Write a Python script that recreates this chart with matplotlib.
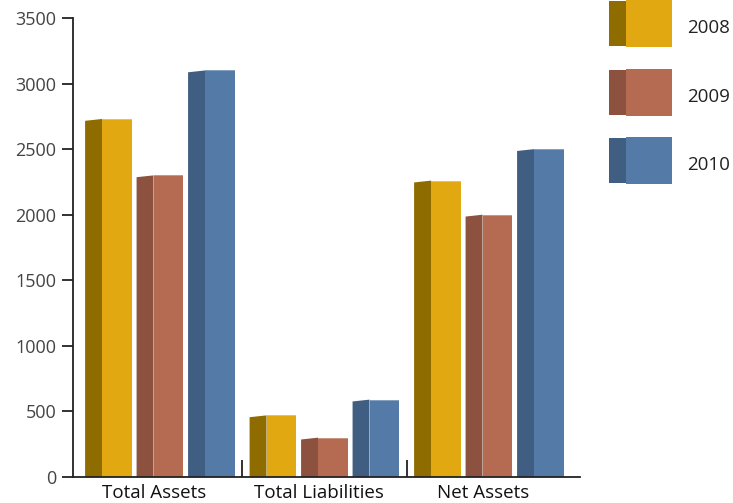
import numpy as np
import matplotlib
matplotlib.use("Agg")
import matplotlib.pyplot as plt
import matplotlib.transforms as mtrans
from matplotlib.patches import Polygon, Rectangle

categories = ["Total Assets", "Total Liabilities", "Net Assets"]
years = ["2008", "2009", "2010"]
values = {
    "2008": [2730, 470, 2260],
    "2009": [2300, 300, 2000],
    "2010": [3100, 590, 2500],
}
yticks = [0, 500, 1000, 1500, 2000, 2500, 3000, 3500]

FRONT = {"2008": "#e2a811", "2009": "#b46b52", "2010": "#547ba7"}
SIDE = {"2008": "#8f6c00", "2009": "#8c513f", "2010": "#3f5e81"}

plt.rcParams["font.family"] = ["Open Sans", "DejaVu Sans"]
fig = plt.figure(figsize=(7.33, 5.03), dpi=100)
ax = fig.add_axes([73 / 733, 1 - 477 / 503, (580 - 73) / 733, (477 - 18) / 503])

width, side_w, step, drop = 0.285, 0.103, 0.313, 14
x = np.arange(len(categories))
for k, yr in enumerate(years):
    for xi, v in zip(x, values[yr]):
        x0 = xi + (k - 1) * step - width / 2
        ax.add_patch(Polygon([(x0, 0), (x0, v - drop), (x0 + side_w, v), (x0 + side_w, 0)],
                             closed=True, fc=SIDE[yr], ec="none"))
        ax.add_patch(Rectangle((x0 + side_w, 0), width - side_w, v, fc=FRONT[yr], ec="none"))
        ax.plot([x0 + side_w, x0 + width], [v, v], color="white", lw=0.6, alpha=0.35)

ax.vlines([0.5, 1.5], 0, 130, color="#222", lw=1.3)
ax.set_xlim(-0.529, 2.553)
ax.set_ylim(0, 3500)
ax.set_yticks(yticks)
ax.set_xticks(x)
ax.set_xticklabels(categories)
for s in ("top", "right"):
    ax.spines[s].set_visible(False)
for s in ("left", "bottom"):
    ax.spines[s].set_linewidth(1.3)
    ax.spines[s].set_color("#222")
ax.tick_params(axis="y", length=8, width=1.3, color="#222", labelsize=13, labelcolor="#444", pad=4)
ax.tick_params(axis="x", length=0, labelsize=13.5, labelcolor="#111", pad=5)
shift = mtrans.ScaledTranslation(-6 / 100, 0, fig.dpi_scale_trans)
for lab in ax.get_xticklabels():
    lab.set_transform(lab.get_transform() + shift)

# legend as 3D boxes
lg = fig.add_axes([0, 0, 1, 1])
lg.set_xlim(0, 733); lg.set_ylim(503, 0); lg.axis("off")
for i, yr in enumerate(years):
    top = i * 68.5
    lg.add_patch(Rectangle((609, top + 1), 17, 45, fc=SIDE[yr], ec="none"))
    lg.add_patch(Rectangle((626, top), 46, 47, fc=FRONT[yr], ec="none"))
    lg.text(687, top + 28, yr, fontsize=13.5, color="#222", va="center", ha="left")

fig.savefig("out.png", dpi=100)
